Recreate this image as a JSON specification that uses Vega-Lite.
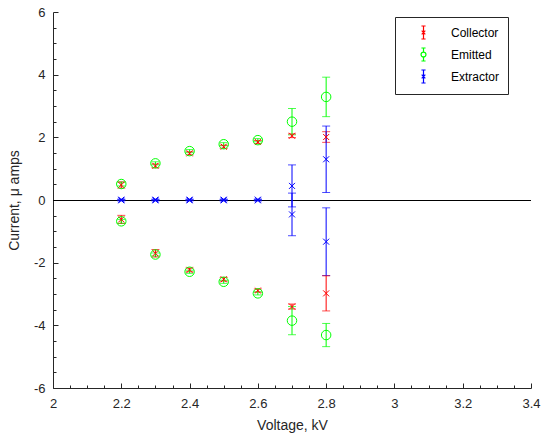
{
  "$schema": "https://vega.github.io/schema/vega-lite/v6.json",
  "autosize": "none",
  "width": 478,
  "height": 376,
  "padding": {"left": 53, "top": 12, "right": 16, "bottom": 52},
  "background": "white",
  "config": {
    "view": {"stroke": null},
    "font": "Liberation Sans",
    "axis": {
      "grid": false,
      "domainColor": "#262626",
      "tickColor": "#262626",
      "labelColor": "#262626",
      "titleColor": "#262626",
      "labelFont": "Liberation Sans",
      "titleFont": "Liberation Sans",
      "labelFontSize": 13,
      "titleFontSize": 14,
      "titleFontWeight": "normal",
      "labelFlush": false,
      "labelOverlap": false
    }
  },
  "data": {
    "values": [
      {"V": 2.2, "series": "Collector", "val": 0.48, "err": 0.1},
      {"V": 2.3, "series": "Collector", "val": 1.09, "err": 0.06},
      {"V": 2.4, "series": "Collector", "val": 1.49, "err": 0.05},
      {"V": 2.5, "series": "Collector", "val": 1.7, "err": 0.05},
      {"V": 2.6, "series": "Collector", "val": 1.85, "err": 0.05},
      {"V": 2.7, "series": "Collector", "val": 2.05, "err": 0.06},
      {"V": 2.8, "series": "Collector", "val": 2.01, "err": 0.17},
      {"V": 2.2, "series": "Collector", "val": -0.62, "err": 0.13},
      {"V": 2.3, "series": "Collector", "val": -1.7, "err": 0.12},
      {"V": 2.4, "series": "Collector", "val": -2.23, "err": 0.06},
      {"V": 2.5, "series": "Collector", "val": -2.53, "err": 0.06},
      {"V": 2.6, "series": "Collector", "val": -2.89, "err": 0.05},
      {"V": 2.7, "series": "Collector", "val": -3.4, "err": 0.08},
      {"V": 2.8, "series": "Collector", "val": -2.98, "err": 0.56},
      {"V": 2.2, "series": "Emitted", "val": 0.51, "err": 0.06},
      {"V": 2.3, "series": "Emitted", "val": 1.17, "err": 0.05},
      {"V": 2.4, "series": "Emitted", "val": 1.56, "err": 0.05},
      {"V": 2.5, "series": "Emitted", "val": 1.78, "err": 0.05},
      {"V": 2.6, "series": "Emitted", "val": 1.91, "err": 0.05},
      {"V": 2.7, "series": "Emitted", "val": 2.5, "err": 0.42},
      {"V": 2.8, "series": "Emitted", "val": 3.29, "err": 0.63},
      {"V": 2.2, "series": "Emitted", "val": -0.68, "err": 0.06},
      {"V": 2.3, "series": "Emitted", "val": -1.74, "err": 0.05},
      {"V": 2.4, "series": "Emitted", "val": -2.29, "err": 0.05},
      {"V": 2.5, "series": "Emitted", "val": -2.61, "err": 0.05},
      {"V": 2.6, "series": "Emitted", "val": -2.98, "err": 0.05},
      {"V": 2.7, "series": "Emitted", "val": -3.85, "err": 0.45},
      {"V": 2.8, "series": "Emitted", "val": -4.31, "err": 0.37},
      {"V": 2.2, "series": "Extractor", "val": 0.01, "err": 0.02},
      {"V": 2.3, "series": "Extractor", "val": 0.01, "err": 0.02},
      {"V": 2.4, "series": "Extractor", "val": 0.01, "err": 0.02},
      {"V": 2.5, "series": "Extractor", "val": 0.01, "err": 0.02},
      {"V": 2.6, "series": "Extractor", "val": 0.01, "err": 0.02},
      {"V": 2.7, "series": "Extractor", "val": 0.45, "err": 0.67},
      {"V": 2.8, "series": "Extractor", "val": 1.3, "err": 1.06},
      {"V": 2.2, "series": "Extractor", "val": -0.01, "err": 0.02},
      {"V": 2.3, "series": "Extractor", "val": -0.01, "err": 0.02},
      {"V": 2.4, "series": "Extractor", "val": -0.01, "err": 0.02},
      {"V": 2.5, "series": "Extractor", "val": -0.01, "err": 0.02},
      {"V": 2.6, "series": "Extractor", "val": -0.01, "err": 0.02},
      {"V": 2.7, "series": "Extractor", "val": -0.46, "err": 0.68},
      {"V": 2.8, "series": "Extractor", "val": -1.33, "err": 1.08}
    ]
  },
  "encoding": {
    "x": {
      "field": "V", "type": "quantitative",
      "scale": {"domain": [2, 3.4], "nice": false, "zero": false},
      "axis": {
        "title": "Voltage, kV",
        "values": [2, 2.05, 2.1, 2.15, 2.2, 2.25, 2.3, 2.35, 2.4, 2.45, 2.5, 2.55, 2.6, 2.65, 2.7, 2.75, 2.8, 2.85, 2.9, 2.95, 3, 3.05, 3.1, 3.15, 3.2, 3.25, 3.3, 3.35, 3.4],
        "labelExpr": "abs(datum.value*5 - round(datum.value*5)) < 0.001 ? '' + datum.value : ''",
        "tickSize": {"condition": {"test": "abs(datum.value*5 - round(datum.value*5)) < 0.001", "value": -5}, "value": -3},
        "labelPadding": 14,
        "titlePadding": 6
      }
    },
    "y": {
      "field": "val", "type": "quantitative",
      "scale": {"domain": [-6, 6], "nice": false},
      "axis": {
        "title": "Current, μ amps",
        "values": [-6, -5.5, -5, -4.5, -4, -3.5, -3, -2.5, -2, -1.5, -1, -0.5, 0, 0.5, 1, 1.5, 2, 2.5, 3, 3.5, 4, 4.5, 5, 5.5, 6],
        "labelExpr": "abs(datum.value/2 - round(datum.value/2)) < 0.001 ? '' + datum.value : ''",
        "tickSize": {"condition": {"test": "abs(datum.value/2 - round(datum.value/2)) < 0.001", "value": -5}, "value": -3},
        "labelPadding": 13,
        "titlePadding": 12
      }
    }
  },
  "layer": [
    {
      "mark": {"type": "rule", "color": "black", "strokeWidth": 1, "yOffset": 0.5},
      "encoding": {"y": {"datum": 0}, "x": null}
    },
    {
      "mark": {"type": "errorbar", "ticks": {"size": 8}, "thickness": 1},
      "encoding": {
        "yError": {"field": "err"},
        "color": {
          "field": "series", "type": "nominal",
          "scale": {"domain": ["Collector", "Emitted", "Extractor"], "range": ["#ff0000", "#00ff00", "#0000ff"]},
          "legend": {
            "title": null,
            "orient": "none",
            "legendX": 342,
            "legendY": 5,
            "strokeColor": "#262626",
            "fillColor": "white",
            "padding": 8,
            "symbolOffset": 13,
            "symbolSize": 169,
            "symbolStrokeWidth": 1,
            "symbolFillColor": "transparent",
            "labelOffset": 20,
            "labelFontSize": 12,
            "labelColor": "black",
            "rowPadding": 3,
            "encode": {
              "symbols": {
                "update": {
                  "shape": {"signal": "datum.value === 'Emitted' ? 'M0,-1L0,-0.38M0,0.38L0,1M-0.32,-1L0.32,-1M-0.32,1L0.32,1M0.38,0A0.38,0.38 0 1 1 -0.38,0A0.38,0.38 0 1 1 0.38,0A0.38,0.38 0 1 0 -0.38,0A0.38,0.38 0 1 0 0.38,0' : 'M0,-1L0,1M-0.32,-1L0.32,-1M-0.32,1L0.32,1M-0.28,-0.28L0.28,0.28M-0.28,0.28L0.28,-0.28'"},
                  "stroke": {"signal": "scale('color', datum.value)"},
                  "strokeWidth": {"value": 1.2}
                }
              }
            }
          }
        }
      }
    },
    {
      "mark": {"type": "point", "filled": false, "strokeWidth": 1, "opacity": 1},
      "encoding": {
        "color": {"field": "series", "type": "nominal"},
        "shape": {"condition": {"test": "datum.series === 'Emitted'", "value": "circle"}, "value": "M-1,-1L1,1M-1,1L1,-1"},
        "size": {"condition": {"test": "datum.series === 'Emitted'", "value": 90}, "value": 36}
      }
    }
  ]
}
